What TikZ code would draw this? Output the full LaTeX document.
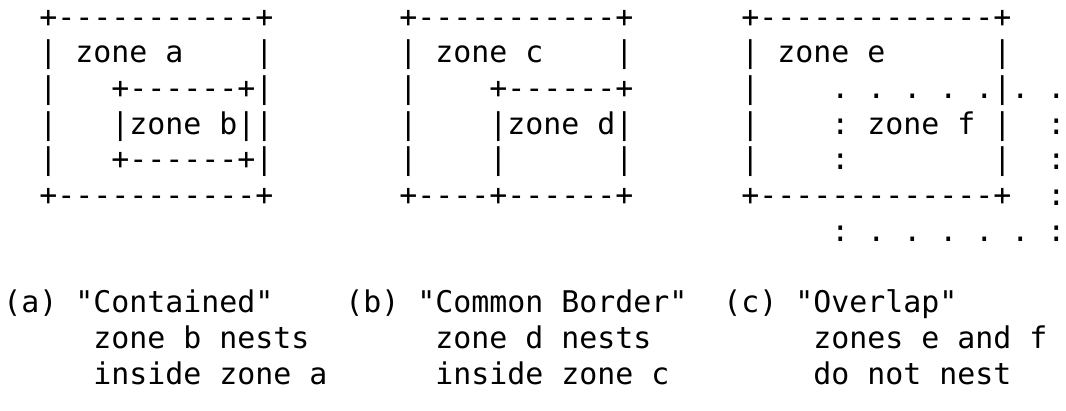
\documentclass[tikz,border=0pt]{standalone}
\usepackage{fontspec}
\setmonofont{DejaVu Sans Mono}
\tikzset{asciitext/.style={anchor=base west, inner sep=0pt, outer sep=0pt,
  font=\ttfamily\fontsize{29.9}{36}\selectfont, text=black}}
% #1 name, #2 column, #3 row, #4 text
\newcommand\Lt[4]{\node[asciitext] (#1) at ({3.3+#2*18.0},{-(27+#3*35.7)}) {#4};}
\begin{document}
\begin{tikzpicture}[x=1pt,y=1pt]
\useasboundingbox (0,0) rectangle (1066,-410);
% row 0
\Lt{aTop}{2}{0}{+-----------+}
\Lt{cTop}{22}{0}{+-----------+}
\Lt{eTop}{41}{0}{+-------------+}
% row 1
\Lt{aL1}{2}{1}{|}\Lt{aName}{4}{1}{zone a}\Lt{aR1}{14}{1}{|}
\Lt{cL1}{22}{1}{|}\Lt{cName}{24}{1}{zone c}\Lt{cR1}{34}{1}{|}
\Lt{eL1}{41}{1}{|}\Lt{eName}{43}{1}{zone e}\Lt{eR1}{55}{1}{|}
% row 2
\Lt{aL2}{2}{2}{|}\Lt{bTop}{6}{2}{+------+|}
\Lt{cL2}{22}{2}{|}\Lt{dTop}{27}{2}{+------+}
\Lt{eL2}{41}{2}{|}\Lt{fTop}{46}{2}{. . . . .|. .}
% row 3
\Lt{aL3}{2}{3}{|}\Lt{bName}{6}{3}{|zone b||}
\Lt{cL3}{22}{3}{|}\Lt{dName}{27}{3}{|zone d|}
\Lt{eL3}{41}{3}{|}\Lt{fName}{46}{3}{: zone f |}\Lt{fR3}{58}{3}{:}
% row 4
\Lt{aL4}{2}{4}{|}\Lt{bBot}{6}{4}{+------+|}
\Lt{cL4}{22}{4}{|}\Lt{dL4}{27}{4}{|}\Lt{dR4}{34}{4}{|}
\Lt{eL4}{41}{4}{|}\Lt{fL4}{46}{4}{:}\Lt{eR4}{55}{4}{|}\Lt{fR4}{58}{4}{:}
% row 5
\Lt{aBot}{2}{5}{+-----------+}
\Lt{cBot}{22}{5}{+----+------+}
\Lt{eBot}{41}{5}{+-------------+}\Lt{fR5}{58}{5}{:}
% row 6
\Lt{fBot}{46}{6}{: . . . . . :}
% captions
\Lt{capA}{0}{8}{(a) "Contained"}
\Lt{capB}{19}{8}{(b) "Common Border"}
\Lt{capC}{40}{8}{(c) "Overlap"}
\Lt{capA2}{5}{9}{zone b nests}
\Lt{capB2}{24}{9}{zone d nests}
\Lt{capC2}{45}{9}{zones e and f}
\Lt{capA3}{5}{10}{inside zone a}
\Lt{capB3}{24}{10}{inside zone c}
\Lt{capC3}{45}{10}{do not nest}
\end{tikzpicture}
\end{document}
